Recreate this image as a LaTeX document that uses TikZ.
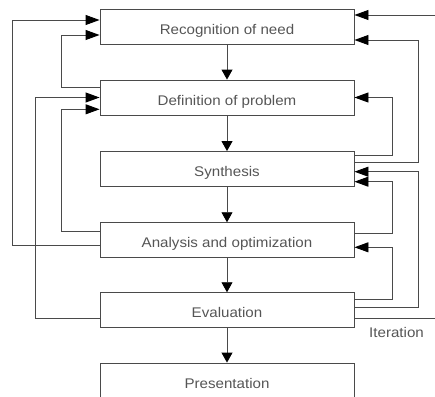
\documentclass[tikz,border=0pt]{standalone}
\usepackage{fontspec}
\setmainfont{Liberation Sans}
\usetikzlibrary{arrows.meta}
\definecolor{txt}{HTML}{555555}
\definecolor{lin}{HTML}{4A4A4A}
\newcommand{\bxt}[1]{\scalebox{1.08}[1]{#1}}
\tikzset{
  stagebox/.style={draw=lin, line width=0.9pt, rectangle, minimum width=254pt,
    minimum height=35pt, inner xsep=0pt, inner ysep=0pt, text height=25pt, text depth=10pt,
    text=txt, font=\fontsize{14}{16}\selectfont},
  ln/.style={draw=lin, line width=0.9pt},
  harr/.style={ln, -{Triangle[length=14pt,width=10pt,color=black]}},
  varr/.style={ln, -{Triangle[length=10pt,width=11pt,color=black]}},
  lbl/.style={text=txt, font=\fontsize{14}{16}\selectfont, inner sep=0pt}
}
\begin{document}
\begin{tikzpicture}[x=1pt,y=-1pt]
\useasboundingbox (0,0) rectangle (435,396);
\clip (0,0) rectangle (435,396);
% boxes
\node[stagebox] (r) at (227,27)    {\bxt{Recognition of need}};
\node[stagebox] (d) at (227,97.5)  {\bxt{Definition of problem}};
\node[stagebox] (s) at (227,169)   {\bxt{Synthesis}};
\node[stagebox] (a) at (227,240.2) {\bxt{Analysis and optimization}};
\node[stagebox] (e) at (227,310.2) {\bxt{Evaluation}};
\node[stagebox] (p) at (227,380.5) {\bxt{Presentation}};
% main flow
\draw[varr] (r) -- (d);
\draw[varr] (d) -- (s);
\draw[varr] (s) -- (a);
\draw[varr] (a) -- (e);
\draw[varr] (e) -- (p);
% left feedback
\draw[harr] ([yshift=-4.8pt]a.west) -- ++(-87.3,0) |- ([yshift=7pt]r.west);
\draw[harr] ([yshift=10.5pt]d.west) -- ++(-38.3,0) |- ([yshift=-8pt]r.west);
\draw[harr] ([yshift=-8pt]e.west) -- ++(-64,0) |- ([yshift=0pt]d.west);
\draw[harr] ([yshift=8.5pt]a.west) -- ++(-38.3,0) |- ([yshift=-11.8pt]d.west);
% right feedback
\coordinate (ext) at (435,15);
\draw[harr] (ext) -- ([yshift=12pt]r.east);
\draw[harr] ([yshift=6.3pt]s.east) -- ++(64,0) |- ([yshift=-13pt]r.east);
\draw[harr] ([yshift=13.3pt]s.east) -- ++(38,0) |- ([yshift=0pt]d.east);
\draw[harr] ([yshift=2.5pt]e.east) -- ++(64,0) |- ([yshift=-2.7pt]s.east);
\draw[harr] ([yshift=6.9pt]a.east) -- ++(38,0) |- ([yshift=-12.7pt]s.east);
\draw[harr] ([yshift=10.9pt]e.east) -- ++(38,0) |- ([yshift=-7.1pt]a.east);
\coordinate (iter) at (435,318.3);
\draw[ln] ([yshift=-8.1pt]e.east) -- (iter);
\node[lbl, anchor=base west] (it) at (369,337) {\bxt{Iteration}};
\end{tikzpicture}
\end{document}
